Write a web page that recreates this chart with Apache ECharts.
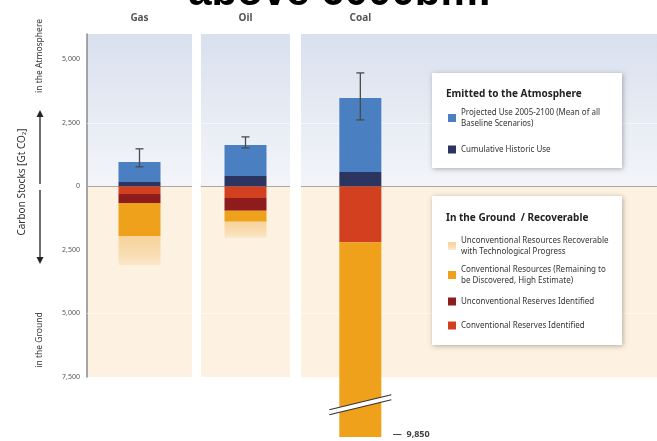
<!DOCTYPE html>
<html>
<head>
<meta charset="utf-8">
<script src="https://cdn.jsdelivr.net/npm/echarts@6/dist/echarts.min.js"></script>
<style>
  html, body { margin: 0; padding: 0; background: #fff; }
  #chart { width: 657px; height: 441px; }
</style>
</head>
<body>
<div id="chart"></div>
<script>
// fuels shown as separate panels
const categories = ['Gas', 'Oil', 'Coal'];

// emitted to the atmosphere (Gt CO2, positive = up)
const historicUse = [175, 410, 570];
const projectedUse = [790, 1220, 2910];
const projectedLow = [770, 1516, 2620];
const projectedHigh = [1480, 1950, 4470];

// in the ground (negative = down)
const convReserves = [-300, -450, -2190];
const unconvReserves = [-350, -510, 0];
const convResources = [-1300, -430, -7660];
const unconvResources = [-1140, -630, 0];

const coalBottom = -9850;
const coalBreakAt = -8580;
const yTicks = [5000, 2500, 0, -2500, -5000, -7500];

const FONT = 'Noto Sans';
const C = {
  projected: '#4a7fc2',
  historic: '#2b3560',
  convRes: '#d3401f',
  unconvRes: '#8f1c1c',
  convResources: '#efa11b',
  unconvResources: '#f8d6a2'
};
const NAMES = {
  projected: 'Projected Use 2005-2100 (Mean of all\nBaseline Scenarios)',
  historic: 'Cumulative Historic Use',
  unconvResources: 'Unconventional Resources Recoverable\nwith Technological Progress',
  convResources: 'Conventional Resources (Remaining to\nbe Discovered, High Estimate)',
  unconvRes: 'Unconventional Reserves Identified',
  convRes: 'Conventional Reserves Identified'
};

const chart = echarts.init(document.getElementById('chart'));

const panels = [
  { left: 87, width: 105, height: 343, min: -7500, cats: [categories[0]] },
  { left: 201, width: 89, height: 343, min: -7500, cats: [categories[1]] },
  { left: 301, width: 356, height: 403, min: coalBottom, cats: [categories[2], ' ', '  '] }
];

const grids = panels.map(p => ({ left: p.left, width: p.width, top: 34, height: p.height }));

const xAxes = panels.map((p, i) => ({
  type: 'category',
  gridIndex: i,
  position: 'top',
  data: p.cats,
  axisLine: { show: false },
  axisTick: { show: false },
  axisLabel: { margin: 11, color: '#555', fontSize: 10, fontWeight: 'bold', fontFamily: FONT }
}));

const yAxes = panels.map((p, i) => ({
  type: 'value',
  gridIndex: i,
  min: p.min,
  max: 6000,
  interval: 2500,
  show: i === 0,
  splitLine: { show: false },
  axisTick: { show: false },
  axisLine: { show: i === 0, lineStyle: { color: '#8a8a8a', width: 1.5 } },
  axisLabel: {
    show: i === 0,
    margin: 7,
    fontSize: 7,
    color: '#555',
    fontFamily: FONT,
    showMaxLabel: false,
    formatter: v => (yTicks.indexOf(v) >= 0 ? Math.abs(v).toLocaleString('en-US') : '')
  }
}));

const bgBlue = new echarts.graphic.LinearGradient(0, 0, 0, 1, [
  { offset: 0, color: '#d9e0ee' },
  { offset: 1, color: '#f3f5f9' }
]);

const series = [];
panels.forEach((p, i) => {
  // panel backgrounds
  series.push({
    type: 'line',
    xAxisIndex: i,
    yAxisIndex: i,
    z: 0,
    silent: true,
    data: [],
    markArea: {
      silent: true,
      z: 0,
      data: [
        [{ yAxis: 0, itemStyle: { color: bgBlue } }, { yAxis: 6000 }],
        [{ yAxis: -7500, itemStyle: { color: '#fdf2e1' } }, { yAxis: 0 }]
      ]
    }
  });
  series.push({
    type: 'line',
    xAxisIndex: i,
    yAxisIndex: i,
    z: 1,
    silent: true,
    data: [],
    markLine: {
      silent: true,
      z: 1,
      symbol: 'none',
      label: { show: false },
      data: [
        { yAxis: 0, lineStyle: { color: '#a8a8a8', width: 1.2, type: 'solid' } },
        { yAxis: 2500, lineStyle: { color: '#ffffff', opacity: 0.6, width: 1, type: 'solid' } },
        { yAxis: -5000, lineStyle: { color: '#ffffff', opacity: 0.6, width: 1, type: 'solid' } }
      ]
    }
  });

  const bar = (key, arr, extra) => Object.assign({
    name: NAMES[key],
    type: 'bar',
    xAxisIndex: i,
    yAxisIndex: i,
    z: 2,
    stack: 'fuel' + i,
    barWidth: 42,
    itemStyle: { color: C[key] },
    data: [arr[i]]
  }, extra || {});

  series.push(bar('historic', historicUse));
  series.push(bar('projected', projectedUse));
  series.push(bar('convRes', convReserves));
  series.push(bar('unconvRes', unconvReserves));
  series.push(bar('convResources', convResources, i === 2 ? {
    markPoint: {
      symbol: 'circle',
      symbolSize: 1,
      itemStyle: { color: 'rgba(0,0,0,0)' },
      label: {
        show: true,
        position: 'right',
        distance: 0,
        offset: [32, -3],
        formatter: '\u2014  9,850',
        color: '#444',
        fontSize: 9,
        fontWeight: 'bold',
        fontFamily: FONT
      },
      data: [{ coord: [0, coalBottom] }]
    }
  } : null));
  series.push(bar('unconvResources', unconvResources, {
    itemStyle: {
      color: new echarts.graphic.LinearGradient(0, 0, 0, 1, [
        { offset: 0, color: '#f8d39c' },
        { offset: 0.6, color: '#f9dcb0' },
        { offset: 1, color: 'rgba(250,224,186,0.6)' }
      ])
    }
  }));

  // error bar on projected use
  series.push({
    type: 'custom',
    xAxisIndex: i,
    yAxisIndex: i,
    z: 5,
    silent: true,
    data: [[0, projectedLow[i], projectedHigh[i]]],
    renderItem: (params, api) => {
      const lo = api.coord([api.value(0), api.value(1)]);
      const hi = api.coord([api.value(0), api.value(2)]);
      const st = { stroke: '#4a4a4a', lineWidth: 1.3 };
      return {
        type: 'group',
        children: [
          { type: 'line', shape: { x1: lo[0], y1: lo[1], x2: hi[0], y2: hi[1] }, style: st },
          { type: 'line', shape: { x1: hi[0] - 4, y1: hi[1], x2: hi[0] + 4, y2: hi[1] }, style: st },
          { type: 'line', shape: { x1: lo[0] - 4, y1: lo[1], x2: lo[0] + 4, y2: lo[1] }, style: st }
        ]
      };
    }
  });
});

// axis break marks on the coal bar
series.push({
  type: 'custom',
  xAxisIndex: 2,
  yAxisIndex: 2,
  z: 6,
  silent: true,
  data: [[0, coalBreakAt]],
  renderItem: (params, api) => {
    const c = api.coord([api.value(0), api.value(1)]);
    const x = c[0], y = c[1];
    return {
      type: 'group',
      children: [
        { type: 'polygon', shape: { points: [[x - 31, y + 5], [x + 31, y - 10], [x + 31, y - 5], [x - 31, y + 10]] }, style: { fill: '#ffffff' } },
        { type: 'line', shape: { x1: x - 31, y1: y + 5, x2: x + 31, y2: y - 10 }, style: { stroke: '#333', lineWidth: 1.2 } },
        { type: 'line', shape: { x1: x - 31, y1: y + 10, x2: x + 31, y2: y - 5 }, style: { stroke: '#333', lineWidth: 1.2 } }
      ]
    };
  }
});

const legendItem = (key, left, top) => ({
  left: left,
  top: top,
  z: 20,
  orient: 'vertical',
  itemWidth: 8,
  itemHeight: 8,
  itemGap: 0,
  padding: 0,
  selectedMode: false,
  icon: 'rect',
  textStyle: { fontSize: 8, lineHeight: 11, color: '#333', fontFamily: FONT },
  data: [NAMES[key]]
});

const legends = [
  legendItem('projected', 448, 107),
  legendItem('historic', 448, 144),
  legendItem('unconvResources', 448, 235),
  legendItem('convResources', 448, 264),
  legendItem('unconvRes', 448, 296),
  legendItem('convRes', 448, 320)
];

const box = (y, h) => ({
  type: 'rect',
  shape: { x: 432, y: y, width: 190, height: h },
  style: { fill: '#ffffff', shadowBlur: 5, shadowColor: 'rgba(0,0,0,0.3)', shadowOffsetX: 1, shadowOffsetY: 1 },
  z: 10
});
const txt = (s, x, y, extra) => ({
  type: 'text',
  x: x,
  y: y,
  z: 11,
  style: Object.assign({ text: s, fill: '#333', fontFamily: FONT, fontSize: 8.5, verticalAlign: 'middle' }, extra || {})
});

const arrow = (y1, y2) => {
  const dir = y2 < y1 ? -1 : 1;
  return [
    { type: 'line', z: 11, shape: { x1: 40, y1: y1, x2: 40, y2: y2 - dir * 6 }, style: { stroke: '#222', lineWidth: 1.3 } },
    { type: 'polygon', z: 11, shape: { points: [[40, y2], [36.5, y2 - dir * 7], [43.5, y2 - dir * 7]] }, style: { fill: '#222' } }
  ];
};

const graphic = [
  txt('above 6000bm:', 340, -7, { fontSize: 42, fontWeight: 'bold', fill: '#000', fontFamily: 'Liberation Sans', align: 'center' }),
  box(73, 95),
  box(196, 149),
  txt('Emitted to the Atmosphere', 446, 94, { fontWeight: 'bold', fontSize: 10, fill: '#222' }),
  txt('In the Ground  / Recoverable', 446, 218, { fontWeight: 'bold', fontSize: 10, fill: '#222' }),
  txt('Carbon Stocks [Gt CO\u2082]', 22, 182, { align: 'center', fontSize: 10 }),
  txt('in the Atmosphere', 40, 56, { align: 'center', fontSize: 8.5 }),
  txt('in the Ground', 40, 340, { align: 'center', fontSize: 8.5 })
].concat(arrow(184, 110), arrow(190, 264));

// rotate vertical labels
[5, 6, 7].forEach(k => { graphic[k].rotation = Math.PI / 2; });

chart.setOption({
  animation: false,
  grid: grids,
  xAxis: xAxes,
  yAxis: yAxes,
  legend: legends,
  series: series,
  graphic: graphic
});
</script>
</body>
</html>
